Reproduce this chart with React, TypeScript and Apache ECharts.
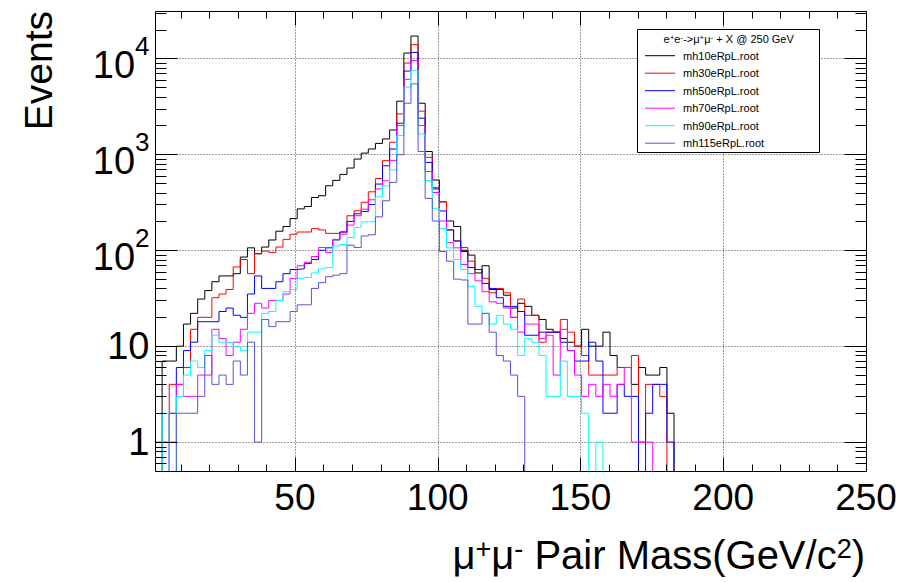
import React, { useEffect, useRef } from 'react';
import * as echarts from 'echarts';

const FONT = '"Liberation Sans", Arial, Helvetica, sans-serif';

// Histogram binning (GeV/c^2)
const BIN_MIN = 1;
const BIN_WIDTH = 2.49;
const X_MIN = 1;
const X_MAX = 250;
const Y_MIN = 0.5;
const Y_MAX = 31200;
const ZERO_FLOOR = 0.01;

const seriesNames = ['mh10eRpL.root', 'mh30eRpL.root', 'mh50eRpL.root', 'mh70eRpL.root', 'mh90eRpL.root', 'mh115eRpL.root'];
const seriesColors = ['#000000', '#ff0000', '#0000ff', '#ff00ff', '#00ffff', '#5954d8'];

// bin contents, one value per 2.49 GeV bin starting at 1 GeV
const mh10 = [0, 7, 7, 10, 17, 22, 31, 38, 47, 54,
  54, 57, 85, 106, 92, 108, 128, 158, 177, 214,
  270, 286, 355, 370, 470, 535, 618, 720, 893, 1030,
  1137, 1300, 1447, 1795, 3580, 11370, 17100, 3410, 1070, 540,
  320, 202, 177, 100, 89, 58, 69, 39, 39, 34,
  25, 28, 26, 21, 19, 15, 14, 12, 11, 10,
  15, 10, 10, 14, 8, 6, 6, 4, 6, 5,
  5, 6, 2, 0, 0];
const mh30 = [1, 1, 4, 4, 6, 15, 20, 20, 32, 35,
  39, 67, 80, 57, 92, 98, 95, 108, 130, 147,
  155, 155, 168, 163, 150, 150, 155, 229, 258, 316,
  407, 560, 860, 1335, 2640, 8940, 13900, 2820, 930, 450,
  320, 163, 125, 107, 77, 63, 51, 36, 40, 36,
  20, 31, 21, 21, 11, 14, 14, 19, 14, 10,
  8, 5, 5, 5, 5, 6, 6, 8, 1, 4,
  4, 3, 0, 0, 0];
const mh50 = [0, 0, 2, 6, 9, 11, 18, 18, 18, 23,
  25, 21, 20, 35, 54, 40, 40, 47, 57, 63,
  64, 73, 80, 100, 106, 128, 155, 200, 240, 254,
  300, 490, 760, 1137, 2110, 7380, 11550, 2380, 824, 436,
  257, 163, 125, 97, 66, 63, 45, 40, 32, 26,
  26, 23, 13, 13, 14, 14, 14, 11, 9, 7,
  7, 11, 7, 2, 2, 4, 3, 3, 0, 2,
  4, 4, 1, 0, 0];
const mh70 = [0, 0, 1, 4, 3, 3, 5, 5, 15, 12,
  8, 11, 15, 22, 28, 25, 30, 30, 35, 51,
  69, 75, 86, 107, 95, 130, 147, 183, 229, 268,
  336, 436, 530, 860, 2000, 6050, 9500, 2000, 663, 400,
  202, 120, 106, 71, 57, 48, 37, 29, 28, 25,
  20, 14, 17, 17, 12, 13, 5, 15, 9, 5,
  3, 4, 3, 4, 3, 4, 6, 1, 1, 1,
  0, 0, 0, 0, 0];
const mh90 = [0, 2, 0, 3, 5, 7, 6, 9, 13, 11,
  11, 10, 9, 14, 14, 22, 23, 30, 37, 39,
  51, 52, 58, 64, 66, 111, 115, 136, 173, 198,
  198, 360, 470, 690, 1567, 5020, 7490, 1630, 534, 274,
  168, 106, 80, 63, 42, 26, 22, 17, 21, 17,
  15, 8, 12, 11, 8, 3, 3, 7, 3, 3,
  2, 0, 1, 0, 0];
const mh115 = [0, 0, 0, 2, 2, 2, 3, 8, 4, 5,
  4, 7, 5, 11, 1, 19, 16, 18, 18, 23,
  27, 27, 40, 46, 53, 55, 57, 113, 107, 141,
  145, 223, 328, 510, 992, 3410, 5430, 1070, 347, 202,
  97, 77, 50, 49, 17, 17, 22, 14, 8, 7,
  5, 3, 0, 0];
const seriesValues = [mh10, mh30, mh50, mh70, mh90, mh115];

// axes
const xGridValues = [50, 100, 150, 200];
const xMajorTicks = [50, 100, 150, 200, 250];
const xTickLabels = ['50', '100', '150', '200', '250'];
const xMinorTicks = [10, 20, 30, 40, 60, 70, 80, 90, 110, 120, 130, 140, 160, 170, 180, 190, 210, 220, 230, 240];
const yGridValues = [1, 10, 100, 1000, 10000];
const yMajorTicks = [1, 10, 100, 1000, 10000];
const yTickLabels = ['{p|1}', '{p|10}', '{z| }{b|10}{s|2}', '{z| }{b|10}{s|3}', '{z| }{b|10}{s|4}'];
const yMinorTicks = [0.6, 0.7, 0.8, 0.9, 2, 3, 4, 5, 6, 7, 8, 9, 20, 30, 40, 50, 60, 70, 80, 90,
  200, 300, 400, 500, 600, 700, 800, 900, 2000, 3000, 4000, 5000, 6000, 7000, 8000, 9000, 20000, 30000];

const xTitle = '{n|μ}{s|+}{n|μ}{s|-}{n| Pair Mass(GeV/c}{s|2}{n|)}';
const yTitle = 'Events';
const legendTitle = '{n|e}{s|+}{n|e}{s|-}{n|->μ}{s|+}{n|μ}{s|-}{n| + X @ 250 GeV}';

function histData(vals: number[]) {
  const pts: number[][] = vals.map((v, k) => [BIN_MIN + BIN_WIDTH * k, v > 0 ? v : ZERO_FLOOR]);
  pts.push([BIN_MIN + BIN_WIDTH * vals.length, ZERO_FLOOR]);
  return pts;
}

const crisp = (v: number) => Math.round(v) + 0.5;

function gridRender(params: any, api: any) {
  const cs = params.coordSys;
  const L = crisp(cs.x), T = crisp(cs.y), R = crisp(cs.x + cs.width), B = crisp(cs.y + cs.height);
  const px = (v: number) => crisp(api.coord([v, Y_MIN])[0]);
  const py = (v: number) => crisp(api.coord([X_MIN, v])[1]);
  const dash = { stroke: '#3a3a3a', lineWidth: 1, lineDash: [1, 2] };
  const children: any[] = [];
  xGridValues.forEach((v) => {
    const x = px(v);
    children.push({ type: 'line', shape: { x1: x, y1: T, x2: x, y2: B }, style: dash });
  });
  yGridValues.forEach((v) => {
    const y = py(v);
    children.push({ type: 'line', shape: { x1: L, y1: y, x2: R, y2: y }, style: dash });
  });
  return { type: 'group', children };
}

function axesRender(params: any, api: any) {
  const cs = params.coordSys;
  const L = crisp(cs.x), T = crisp(cs.y), R = crisp(cs.x + cs.width), B = crisp(cs.y + cs.height);
  const px = (v: number) => crisp(api.coord([v, Y_MIN])[0]);
  const py = (v: number) => crisp(api.coord([X_MIN, v])[1]);
  const st = { stroke: '#000', lineWidth: 1 };
  const children: any[] = [];
  children.push({ type: 'rect', shape: { x: L, y: T, width: R - L, height: B - T }, style: { fill: 'none', stroke: '#000', lineWidth: 1 } });
  const xt = (v: number, len: number) => {
    const x = px(v);
    children.push({ type: 'line', shape: { x1: x, y1: B, x2: x, y2: B - len }, style: st });
    children.push({ type: 'line', shape: { x1: x, y1: T, x2: x, y2: T + len }, style: st });
  };
  const yt = (v: number, len: number) => {
    const y = py(v);
    children.push({ type: 'line', shape: { x1: L, y1: y, x2: L + len, y2: y }, style: st });
    children.push({ type: 'line', shape: { x1: R, y1: y, x2: R - len, y2: y }, style: st });
  };
  xMajorTicks.forEach((v) => xt(v, 14));
  xMinorTicks.forEach((v) => xt(v, 7));
  yMajorTicks.forEach((v) => yt(v, 22));
  yMinorTicks.forEach((v) => yt(v, 11));
  xMajorTicks.forEach((v, i) => {
    children.push({
      type: 'text',
      style: {
        text: xTickLabels[i], x: api.coord([v, Y_MIN])[0], y: B + 26,
        fill: '#000', fontSize: 37, fontFamily: FONT,
        textAlign: 'center', textVerticalAlign: 'middle', align: 'center', verticalAlign: 'middle',
      },
    });
  });
  yMajorTicks.forEach((v, i) => {
    children.push({
      type: 'text',
      style: {
        text: yTickLabels[i], x: L - 6, y: api.coord([X_MIN, v])[1],
        fill: '#000', fontSize: 38, fontFamily: FONT,
        textAlign: 'right', textVerticalAlign: 'middle', align: 'right', verticalAlign: 'middle',
        rich: {
          p: { fontSize: 38, lineHeight: 38, fontFamily: FONT, fill: '#000' },
          z: { fontSize: 1, lineHeight: 51, fontFamily: FONT, fill: '#000' },
          b: { fontSize: 38, lineHeight: 37, fontFamily: FONT, fill: '#000', verticalAlign: 'bottom' },
          s: { fontSize: 26, lineHeight: 25, fontFamily: FONT, fill: '#000', verticalAlign: 'top' },
        },
      },
    });
  });
  return { type: 'group', children };
}

export default function App() {
  const ref = useRef<HTMLDivElement>(null);
  useEffect(() => {
    document.body.style.margin = '0';
    const chart = echarts.init(ref.current as HTMLDivElement, null, { renderer: 'svg', width: 904, height: 582 });
    const lineSeries = seriesValues.map((vals, i) => ({
      type: 'line',
      name: seriesNames[i],
      data: histData(vals),
      step: 'end',
      symbol: 'none',
      showSymbol: false,
      clip: true,
      silent: true,
      lineStyle: { color: seriesColors[i], width: 1 },
      itemStyle: { color: seriesColors[i] },
      emphasis: { disabled: true },
      z: 2,
    }));
    const option: any = {
      animation: false,
      backgroundColor: '#ffffff',
      color: seriesColors,
      grid: { left: 155, top: 11, width: 711, height: 460, show: false, containLabel: false },
      xAxis: {
        type: 'value', min: X_MIN, max: X_MAX,
        axisLine: { show: false }, axisTick: { show: false }, axisLabel: { show: false }, splitLine: { show: false },
      },
      yAxis: {
        type: 'log', logBase: 10, min: Y_MIN, max: Y_MAX,
        axisLine: { show: false }, axisTick: { show: false }, axisLabel: { show: false }, splitLine: { show: false },
      },
      legend: {
        data: seriesNames,
        orient: 'vertical',
        left: 645,
        top: 48.7,
        padding: 0,
        itemGap: 3.5,
        itemWidth: 30,
        itemHeight: 1,
        icon: 'rect',
        selectedMode: false,
        textStyle: { fontFamily: FONT, fontSize: 11, color: '#000', lineHeight: 14, padding: [0, 0, 0, 3] },
        z: 6,
      },
      graphic: [
        {
          type: 'rect', z: 5,
          shape: { x: 637.5, y: 29.5, width: 182, height: 123 },
          style: { fill: '#ffffff', stroke: '#000000', lineWidth: 1 },
        },
        {
          type: 'text', z: 6, x: 728.7, y: 39,
          style: {
            text: legendTitle, fill: '#000', fontSize: 11, fontFamily: FONT,
            textAlign: 'center', textVerticalAlign: 'middle', align: 'center', verticalAlign: 'middle',
            rich: {
              n: { fontSize: 11, lineHeight: 11, fontFamily: FONT, fill: '#000', verticalAlign: 'bottom' },
              s: { fontSize: 8, lineHeight: 8, fontFamily: FONT, fill: '#000', verticalAlign: 'top' },
            },
          },
        },
        {
          type: 'text', z: 6, x: 865, y: 555,
          style: {
            text: xTitle, fill: '#000', fontSize: 40, fontFamily: FONT,
            textAlign: 'right', textVerticalAlign: 'middle', align: 'right', verticalAlign: 'middle',
            rich: {
              n: { fontSize: 40, lineHeight: 40, fontFamily: FONT, fill: '#000', verticalAlign: 'bottom' },
              s: { fontSize: 27, lineHeight: 27, fontFamily: FONT, fill: '#000', verticalAlign: 'top' },
            },
          },
        },
        {
          type: 'text', z: 6, x: 38, y: 11, rotation: Math.PI / 2,
          style: {
            text: yTitle, fill: '#000', fontSize: 39, fontFamily: FONT,
            textAlign: 'right', textVerticalAlign: 'middle', align: 'right', verticalAlign: 'middle',
          },
        },
      ],
      series: [
        { type: 'custom', name: 'grid', silent: true, clip: false, data: [[X_MIN, 1]], encode: { x: 0, y: 1 }, renderItem: gridRender, z: 1 },
        ...lineSeries,
        { type: 'custom', name: 'axes', silent: true, clip: false, data: [[X_MIN, 1]], encode: { x: 0, y: 1 }, renderItem: axesRender, z: 3 },
      ],
    };
    chart.setOption(option);
    return () => chart.dispose();
  }, []);
  return <div ref={ref} style={{ width: 904, height: 582 }} />;
}
